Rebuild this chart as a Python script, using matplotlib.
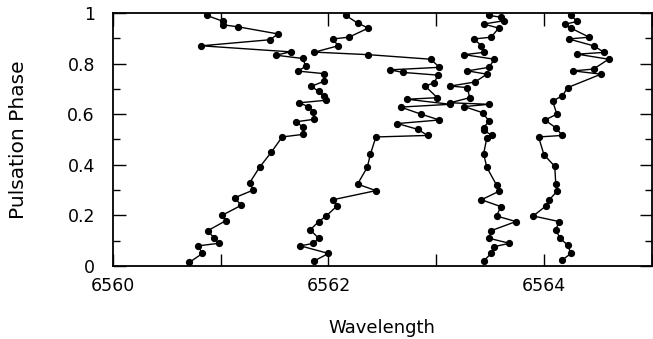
import numpy as np
import matplotlib
matplotlib.use("Agg")
import matplotlib.pyplot as plt
from matplotlib.ticker import MultipleLocator, FormatStrFormatter

# series 1 (leftmost)
phase_1 = [0.015, 0.05, 0.08, 0.09, 0.11, 0.14, 0.18, 0.20, 0.24, 0.27, 0.30, 0.33,
           0.39, 0.45, 0.51, 0.52, 0.55, 0.57, 0.58, 0.61, 0.63, 0.645, 0.655, 0.67,
           0.69, 0.71, 0.73, 0.76, 0.77, 0.79, 0.82, 0.833, 0.846, 0.87, 0.894, 0.917,
           0.945, 0.953, 0.967, 0.99]
wave_1 = [6560.71, 6560.83, 6560.79, 6560.98, 6560.94, 6560.88, 6561.05, 6561.01, 6561.19,
          6561.13, 6561.30, 6561.27, 6561.36, 6561.47, 6561.57, 6561.76, 6561.76, 6561.70,
          6561.87, 6561.86, 6561.81, 6561.73, 6561.98, 6561.96, 6561.91, 6561.84, 6561.96,
          6561.96, 6561.72, 6561.79, 6561.76, 6561.51, 6561.65, 6560.82, 6561.46, 6561.53,
          6561.16, 6561.02, 6561.02, 6560.87]

# series 2
phase_2 = [0.021, 0.05, 0.08, 0.09, 0.11, 0.143, 0.176, 0.198, 0.238, 0.262, 0.298, 0.324,
           0.39, 0.443, 0.51, 0.516, 0.54, 0.563, 0.577, 0.60, 0.628, 0.639, 0.659, 0.665,
           0.71, 0.725, 0.754, 0.765, 0.775, 0.785, 0.817, 0.835, 0.845, 0.87, 0.897, 0.904,
           0.94, 0.96, 0.99]
wave_2 = [6561.87, 6562.00, 6561.74, 6561.86, 6561.91, 6561.83, 6561.91, 6561.98, 6562.08,
          6562.04, 6562.44, 6562.27, 6562.36, 6562.39, 6562.44, 6562.92, 6562.83, 6562.64,
          6563.03, 6562.86, 6562.67, 6563.13, 6562.73, 6563.01, 6562.90, 6562.98, 6563.02,
          6562.69, 6562.57, 6563.03, 6562.95, 6562.37, 6561.87, 6562.09, 6562.04, 6562.19,
          6562.37, 6562.27, 6562.16]

# series 3
phase_3 = [0.02, 0.05, 0.077, 0.09, 0.11, 0.14, 0.176, 0.198, 0.235, 0.262, 0.295, 0.32,
           0.39, 0.443, 0.507, 0.516, 0.536, 0.546, 0.573, 0.606, 0.63, 0.639, 0.645, 0.665,
           0.705, 0.711, 0.727, 0.758, 0.771, 0.785, 0.817, 0.835, 0.844, 0.87, 0.897, 0.904,
           0.94, 0.956, 0.969, 0.983, 0.99]
wave_3 = [6563.44, 6563.51, 6563.54, 6563.68, 6563.49, 6563.51, 6563.74, 6563.56, 6563.60,
          6563.42, 6563.58, 6563.56, 6563.47, 6563.44, 6563.47, 6563.52, 6563.44, 6563.44,
          6563.49, 6563.43, 6563.26, 6563.49, 6563.13, 6563.31, 6563.29, 6563.13, 6563.36,
          6563.47, 6563.29, 6563.49, 6563.54, 6563.26, 6563.44, 6563.42, 6563.35, 6563.51,
          6563.58, 6563.44, 6563.63, 6563.60, 6563.49]

# series 4 (rightmost)
phase_4 = [0.024, 0.05, 0.083, 0.11, 0.143, 0.176, 0.198, 0.238, 0.262, 0.295, 0.324,
           0.394, 0.44, 0.51, 0.516, 0.546, 0.577, 0.60, 0.652, 0.672, 0.705, 0.758, 0.771,
           0.778, 0.817, 0.837, 0.844, 0.87, 0.897, 0.904, 0.94, 0.956, 0.966, 0.99]
wave_4 = [6564.17, 6564.25, 6564.22, 6564.15, 6564.11, 6564.14, 6563.90, 6564.02, 6564.05,
          6564.12, 6564.11, 6564.10, 6564.00, 6563.95, 6564.17, 6564.11, 6564.01, 6564.12,
          6564.08, 6564.17, 6564.22, 6564.53, 6564.27, 6564.46, 6564.60, 6564.31, 6564.56,
          6564.46, 6564.23, 6564.42, 6564.25, 6564.20, 6564.31, 6564.25]

series = [(wave_1, phase_1), (wave_2, phase_2), (wave_3, phase_3), (wave_4, phase_4)]

plt.rcParams['font.family'] = ['DejaVu Sans']

fig = plt.figure(figsize=(6.53, 3.39), dpi=100)
ax = fig.add_axes([0.173, 0.215, 0.825, 0.747])

for w, p in series:
    ax.plot(w, p, color='black', lw=1.0, marker='o', ms=4.2, mfc='black', mec='black')

ax.set_xlim(6560, 6565)
ax.set_ylim(0, 1)

ax.xaxis.set_major_locator(MultipleLocator(2))
ax.xaxis.set_minor_locator(MultipleLocator(1))
ax.yaxis.set_major_locator(MultipleLocator(0.2))
ax.yaxis.set_minor_locator(MultipleLocator(0.1))
ax.yaxis.set_major_formatter(FormatStrFormatter('%g'))

ax.tick_params(which='both', direction='in', top=True, right=True, labelsize=12.5, width=1)
ax.tick_params(which='major', length=9)
ax.tick_params(axis='x', which='major', pad=8)
ax.tick_params(axis='y', which='major', pad=13)
ax.tick_params(axis='x', which='minor', length=9)
ax.tick_params(axis='y', which='minor', length=5)
for s in ax.spines.values():
    s.set_linewidth(1.3)

ax.set_xlabel('Wavelength', fontsize=13, labelpad=17)
ax.set_ylabel('Pulsation Phase', fontsize=14.5, labelpad=28)

fig.savefig('out.png', dpi=100)
